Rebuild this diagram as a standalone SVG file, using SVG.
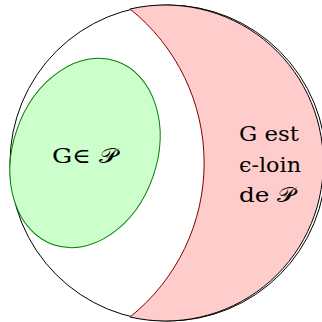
<svg xmlns="http://www.w3.org/2000/svg" width="322" height="322" viewBox="0 0 322 322">
<style>
text{font-family:'DejaVu Serif',serif;font-size:21px;fill:#000}
</style>
<rect width="322" height="322" fill="#fff"/>
<g id="universe">
<circle cx="168" cy="163" r="158" fill="#fff" stroke="#000" stroke-width="1"/>
</g>
<g id="far">
<path d="M130,9 A197,197 0 0 1 130,317 A158,158 0 1 0 130,9 Z" fill="#ffcccc" stroke="none"/>
<path d="M130,9 A197,197 0 0 1 130,317" fill="none" stroke="#800000" stroke-width="1"/>
<path d="M130,317 A158,158 0 1 0 130,9" fill="none" stroke="#000" stroke-width="1"/>
<text x="239" y="141" textLength="60" lengthAdjust="spacingAndGlyphs">G est</text>
<text x="239" y="172" textLength="62" lengthAdjust="spacingAndGlyphs">ϵ-loin</text>
<text x="239" y="202" textLength="56" lengthAdjust="spacingAndGlyphs">de 𝒫</text>
</g>
<g id="inP">
<ellipse cx="85" cy="153" rx="72" ry="97" transform="rotate(19 85 153)" fill="#ccffcc" stroke="#008000" stroke-width="1"/>
<text x="52" y="163" textLength="65" lengthAdjust="spacingAndGlyphs">G∈ 𝒫</text>
</g>
</svg>
